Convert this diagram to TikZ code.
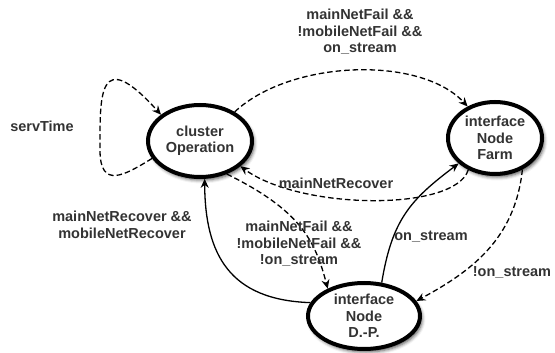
\documentclass[tikz,border=0pt]{standalone}
\usepackage{fontspec}
\setmainfont{Liberation Sans}
\usetikzlibrary{arrows.meta}
\usetikzlibrary{shapes.geometric}
\usetikzlibrary{shadows.blur}

\begin{document}
\begin{tikzpicture}[x=1pt, y=-1pt,
    every node/.style={font=\fontsize{14.5}{16.5}\selectfont\bfseries, text=black!80},
    statenode/.style={ellipse, draw=black, line width=4pt, fill=white, inner sep=0pt, align=center,
        blur shadow={shadow xshift=2pt, shadow yshift=-3pt, shadow blur radius=3.5pt, shadow opacity=70}},
    arc/.style={-{Stealth[length=9pt, width=8pt, inset=3pt]}, line width=1.3pt},
    dasharc/.style={arc, dash pattern=on 5.5pt off 3pt},
    guard/.style={align=center}]
        \useasboundingbox (0,0) rectangle (555,353);
        % states
        \node [statenode, minimum width=104pt, minimum height=72pt] (cluster) at (200,141) {cluster\\Operation};
        \node [statenode, minimum width=94pt, minimum height=72pt] (farm) at (495,138) {interface\\Node\\Farm};
        \node [statenode, minimum width=112pt, minimum height=66pt] (dp) at (364,316) {interface\\Node\\D.-P.};
        % transitions
        \draw [dasharc] (cluster.200) .. controls (125,175) and (100,190) .. (100,150)
            .. controls (100,95) and (98,45) .. (cluster.146);
        \draw [dasharc] (cluster.40) .. controls (290,60) and (420,55) .. (farm.131);
        \draw [dasharc] (farm.230) .. controls (455,212) and (300,210) .. (cluster.328);
        \draw [dasharc] (cluster.309) .. controls (300,210) and (315,240) .. (dp.143);
        \draw [arc] (dp.166) .. controls (230,300) and (205,255) .. (cluster.277);
        \draw [arc] (dp.62) .. controls (392,220) and (410,200) .. (farm.215);
        \draw [dasharc] (farm.311) .. controls (515,240) and (470,272) .. (dp.16);
        % guards
        \node [guard] (gserv) at (42,126) {servTime};
        \node [guard] (gfarm) at (360,32) {mainNetFail \&\&\\!mobileNetFail \&\&\\on\_stream};
        \node [guard] (grec) at (336,183) {mainNetRecover};
        \node [guard] (gdp) at (299,244) {mainNetFail \&\&\\!mobileNetFail \&\&\\!on\_stream};
        \node [guard] (gboth) at (122,225) {mainNetRecover \&\&\\mobileNetRecover};
        \node [guard] (gon) at (431,237) {on\_stream};
        \node [guard] (gnot) at (512,272) {!on\_stream};
\end{tikzpicture}
\end{document}
